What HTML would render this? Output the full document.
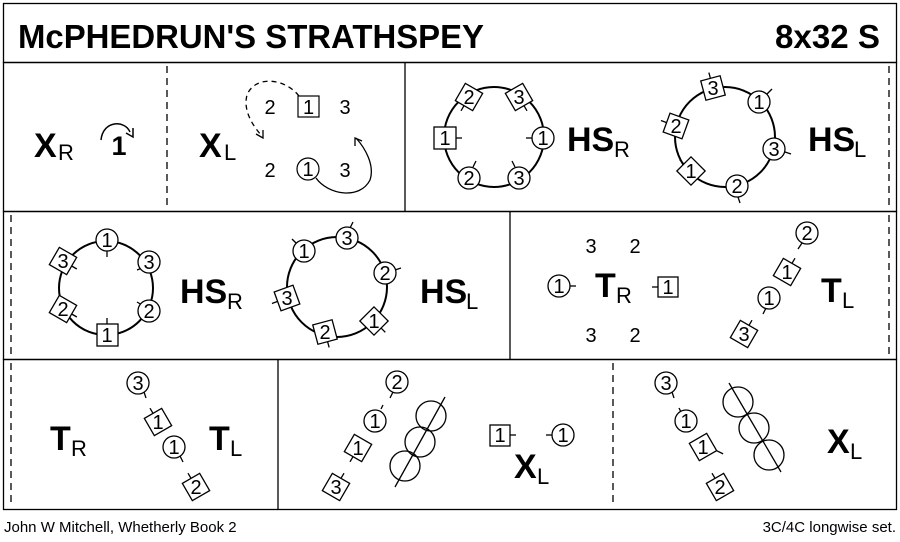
<!DOCTYPE html>
<html><head><meta charset="utf-8"><style>
html,body{margin:0;padding:0;background:#fff}
svg{display:block}
text{font-family:"Liberation Sans",sans-serif;fill:#000}
.n{font-size:20px;text-anchor:middle}
.b{font-weight:bold;font-size:34px}
.s{font-size:22px}
</style></head><body>
<svg width="900" height="542" viewBox="0 0 900 542" xmlns="http://www.w3.org/2000/svg">
<g fill="none" stroke="#000" stroke-width="1.3">
<rect x="3.5" y="3.5" width="893" height="59"/>
<rect x="3.5" y="62.5" width="893" height="149"/>
<rect x="3.5" y="211.5" width="893" height="148"/>
<rect x="3.5" y="359.5" width="893" height="150"/>
<line x1="405" y1="63" x2="405" y2="211"/>
<line x1="510" y1="212" x2="510" y2="359"/>
<line x1="278" y1="360" x2="278" y2="509"/>
<g stroke-dasharray="7,5">
<line x1="167" y1="66" x2="167" y2="208"/>
<line x1="889" y1="66" x2="889" y2="208"/>
<line x1="11" y1="215" x2="11" y2="356"/>
<line x1="889" y1="215" x2="889" y2="356"/>
<line x1="11" y1="363" x2="11" y2="506"/>
<line x1="613" y1="363" x2="613" y2="506"/>
</g>
</g>
<text x="18" y="48" font-weight="bold" font-size="33" textLength="466" lengthAdjust="spacingAndGlyphs">McPHEDRUN'S STRATHSPEY</text>
<text x="880" y="48" font-weight="bold" font-size="33" text-anchor="end" textLength="105" lengthAdjust="spacingAndGlyphs">8x32 S</text>

<!-- Row 1 -->
<text x="34" y="157" class="b">X</text><text x="58" y="160" class="s">R</text>
<path d="M101,140 C103,120 125,120 130,132" fill="none" stroke="#000" stroke-width="1.5"/>
<path d="M126,133 L133,137 L133,128" fill="none" stroke="#000" stroke-width="1.5"/>
<text x="119" y="155" font-size="27" font-weight="bold" text-anchor="middle">1</text>
<text x="199" y="157" class="b">X</text><text x="224" y="160" class="s">L</text>
<text x="270" y="114" class="n">2</text>
<rect x="298" y="96" width="21" height="21" fill="#fff" stroke="#000" stroke-width="1.2"/><text x="308.5" y="114" class="n">1</text>
<text x="345" y="114" class="n">3</text>
<text x="270" y="177" class="n">2</text>
<circle cx="308" cy="169" r="11" fill="#fff" stroke="#000" stroke-width="1.2"/><text x="308" y="176" class="n">1</text>
<text x="345" y="177" class="n">3</text>
<path d="M299,96 C285,78 255,75 247,95 C243,110 252,125 262,136" fill="none" stroke="#000" stroke-width="1.3" stroke-dasharray="5,4"/>
<path d="M256,134 L263,138 L263,130" fill="none" stroke="#000" stroke-width="1.3"/>
<path d="M316,178 C328,195 360,200 370,180 C375,165 365,148 356,138" fill="none" stroke="#000" stroke-width="1.3"/>
<path d="M355,146 L355,138 L362,141" fill="none" stroke="#000" stroke-width="1.3"/>

<g stroke="#000" stroke-width="1.3" fill="#fff">
<circle cx="494" cy="137" r="50" fill="none" stroke-width="2"/>
<line x1="456" y1="138" x2="462" y2="138"/><rect x="434" y="127" width="22" height="22"/>
<line x1="532" y1="138" x2="526" y2="138"/><circle cx="543" cy="138" r="11"/>
<g transform="translate(469,97) rotate(30)"><rect x="-10" y="-10" width="20" height="20"/><line x1="0" y1="10" x2="0" y2="16"/></g>
<g transform="translate(519,97) rotate(-30)"><rect x="-10" y="-10" width="20" height="20"/><line x1="0" y1="10" x2="0" y2="16"/></g>
<line x1="473" y1="167" x2="476" y2="161"/><circle cx="469" cy="178" r="11"/>
<line x1="515" y1="167" x2="512" y2="161"/><circle cx="519" cy="178" r="11"/>
<circle cx="725" cy="137" r="50" fill="none" stroke-width="2"/>
<g transform="translate(713,88) rotate(-15)"><rect x="-10" y="-10" width="20" height="20"/><line x1="0" y1="-10" x2="0" y2="-16"/></g>
<g transform="translate(676,126) rotate(20)"><rect x="-10" y="-10" width="20" height="20"/><line x1="-10" y1="0" x2="-16" y2="0"/></g>
<g transform="translate(691,171) rotate(45)"><rect x="-10" y="-10" width="20" height="20"/><line x1="-10" y1="0" x2="-16" y2="0"/></g>
<line x1="767" y1="94" x2="772" y2="89"/><circle cx="759" cy="102" r="11"/>
<line x1="785" y1="152" x2="791" y2="154"/><circle cx="774" cy="149" r="11"/>
<line x1="738" y1="197" x2="740" y2="203"/><circle cx="737" cy="186" r="11"/>

<circle cx="106" cy="288" r="47" fill="none" stroke-width="2"/>
<line x1="107" y1="251" x2="107" y2="257"/><circle cx="107" cy="240" r="11"/>
<line x1="142" y1="268" x2="137" y2="270"/><circle cx="149" cy="262" r="11"/>
<line x1="142" y1="305" x2="137" y2="302"/><circle cx="149" cy="311" r="11"/>
<line x1="107" y1="324" x2="107" y2="318"/><rect x="97" y="324" width="21" height="22"/>
<g transform="translate(63,261) rotate(30)"><rect x="-10" y="-10" width="20" height="20"/><line x1="10" y1="0" x2="16" y2="0"/></g>
<g transform="translate(63,309) rotate(30)"><rect x="-10" y="-10" width="20" height="20"/><line x1="10" y1="0" x2="16" y2="0"/></g>
<circle cx="337" cy="287" r="50" fill="none" stroke-width="2"/>
<line x1="350" y1="228" x2="353" y2="222"/><circle cx="347" cy="238" r="11"/>
<line x1="395" y1="270" x2="401" y2="268"/><circle cx="385" cy="273" r="11"/>
<line x1="296" y1="243" x2="292" y2="239"/><circle cx="304" cy="251" r="11"/>
<g transform="translate(374,321) rotate(-45)"><rect x="-10" y="-10" width="20" height="20"/><line x1="0" y1="10" x2="0" y2="16"/></g>
<g transform="translate(325,332) rotate(-15)"><rect x="-10" y="-10" width="20" height="20"/><line x1="0" y1="10" x2="0" y2="16"/></g>
<g transform="translate(287,298) rotate(-20)"><rect x="-10" y="-10" width="20" height="20"/><line x1="-10" y1="0" x2="-16" y2="0"/></g>

<line x1="570" y1="286" x2="576" y2="286"/><circle cx="559" cy="286" r="11"/>
<line x1="658" y1="287" x2="652" y2="287"/><rect x="658" y="277" width="20" height="20"/>
<line x1="802" y1="243" x2="798" y2="249"/><circle cx="807" cy="233" r="11"/>
<g transform="translate(787,272) rotate(30)"><rect x="-10" y="-10" width="20" height="20"/><line x1="0" y1="-10" x2="0" y2="-16"/></g>
<line x1="766" y1="308" x2="763" y2="314"/><circle cx="769" cy="298" r="11"/>
<g transform="translate(744,334) rotate(30)"><rect x="-10" y="-10" width="20" height="20"/><line x1="0" y1="-10" x2="0" y2="-16"/></g>

<line x1="144" y1="392" x2="146" y2="398"/><circle cx="138" cy="383" r="11"/>
<g transform="translate(158,422) rotate(-30)"><rect x="-10" y="-10" width="20" height="20"/><line x1="0" y1="-10" x2="0" y2="-16"/></g>
<line x1="180" y1="456" x2="183" y2="462"/><circle cx="174" cy="447" r="11"/>
<g transform="translate(196,487) rotate(-30)"><rect x="-10" y="-10" width="20" height="20"/><line x1="0" y1="-10" x2="0" y2="-16"/></g>

<line x1="393" y1="392" x2="390" y2="398"/><circle cx="397" cy="382" r="11"/>
<line x1="381" y1="409" x2="383" y2="405"/><circle cx="375" cy="421" r="11"/>
<g transform="translate(358,448) rotate(30)"><rect x="-10" y="-10" width="20" height="20"/><line x1="0" y1="10" x2="0" y2="16"/></g>
<g transform="translate(336,487) rotate(30)"><rect x="-10" y="-10" width="20" height="20"/><line x1="0" y1="-10" x2="0" y2="-16"/></g>
<circle cx="431" cy="416" r="15" fill="none"/><circle cx="420" cy="442" r="15" fill="none"/><circle cx="405" cy="466" r="15" fill="none"/>
<line x1="395" y1="487" x2="445" y2="397"/>

<line x1="510" y1="435" x2="516" y2="435"/><rect x="490" y="425" width="20" height="21"/>
<line x1="546" y1="435" x2="552" y2="435"/><circle cx="563" cy="435" r="11"/>

<line x1="672" y1="392" x2="674" y2="398"/><circle cx="666" cy="383" r="11"/>
<line x1="679" y1="408" x2="681" y2="412"/><circle cx="686" cy="421" r="11"/>
<g transform="translate(703,447) rotate(-30)"><rect x="-10" y="-10" width="20" height="20"/><line x1="10" y1="10" x2="14" y2="16"/></g>
<g transform="translate(720,487) rotate(-30)"><rect x="-10" y="-10" width="20" height="20"/><line x1="0" y1="-10" x2="0" y2="-16"/></g>
<circle cx="738" cy="402" r="15" fill="none"/><circle cx="754" cy="428" r="15" fill="none"/><circle cx="769" cy="455" r="15" fill="none"/>
<line x1="729" y1="383" x2="781" y2="472"/>
</g>

<g transform="translate(0,1)">
<text x="445" y="144" class="n">1</text><text x="543" y="144" class="n">1</text>
<text x="469" y="103" class="n">2</text><text x="519" y="103" class="n">3</text>
<text x="469" y="184" class="n">2</text><text x="519" y="184" class="n">3</text>
<text x="713" y="94" class="n">3</text><text x="759" y="108" class="n">1</text>
<text x="676" y="132" class="n">2</text><text x="774" y="155" class="n">3</text>
<text x="691" y="177" class="n">1</text><text x="737" y="192" class="n">2</text>
<text x="107" y="246" class="n">1</text><text x="149" y="268" class="n">3</text>
<text x="149" y="317" class="n">2</text><text x="107" y="341" class="n">1</text>
<text x="63" y="267" class="n">3</text><text x="63" y="315" class="n">2</text>
<text x="347" y="244" class="n">3</text><text x="385" y="279" class="n">2</text>
<text x="304" y="257" class="n">1</text><text x="374" y="327" class="n">1</text>
<text x="325" y="338" class="n">2</text><text x="287" y="304" class="n">3</text>
<text x="559" y="292" class="n">1</text><text x="668" y="293" class="n">1</text>
<text x="807" y="239" class="n">2</text><text x="787" y="278" class="n">1</text>
<text x="769" y="304" class="n">1</text><text x="744" y="340" class="n">3</text>
<text x="138" y="389" class="n">3</text><text x="158" y="428" class="n">1</text>
<text x="174" y="453" class="n">1</text><text x="196" y="493" class="n">2</text>
<text x="397" y="388" class="n">2</text><text x="375" y="427" class="n">1</text>
<text x="358" y="454" class="n">1</text><text x="336" y="493" class="n">3</text>
<text x="500" y="441" class="n">1</text><text x="563" y="441" class="n">1</text>
<text x="666" y="389" class="n">3</text><text x="686" y="427" class="n">1</text>
<text x="703" y="453" class="n">1</text><text x="720" y="493" class="n">2</text>
<text x="591" y="252" class="n">3</text><text x="635" y="252" class="n">2</text>
<text x="591" y="341" class="n">3</text><text x="635" y="341" class="n">2</text>
</g>

<text x="567" y="151" class="b">HS</text><text x="614" y="157" class="s">R</text>
<text x="808" y="151" class="b">HS</text><text x="854" y="157" class="s">L</text>
<text x="180" y="303" class="b">HS</text><text x="227" y="309" class="s">R</text>
<text x="420" y="303" class="b">HS</text><text x="466" y="309" class="s">L</text>
<text x="595" y="297" class="b">T</text><text x="616" y="303" class="s">R</text>
<text x="821" y="302" class="b">T</text><text x="842" y="308" class="s">L</text>
<text x="50" y="450" class="b">T</text><text x="71" y="456" class="s">R</text>
<text x="209" y="450" class="b">T</text><text x="230" y="456" class="s">L</text>
<text x="514" y="478" class="b">X</text><text x="537" y="484" class="s">L</text>
<text x="827" y="453" class="b">X</text><text x="850" y="459" class="s">L</text>

<text x="4" y="532" font-size="15">John W Mitchell, Whetherly Book 2</text>
<text x="896" y="532" font-size="15" text-anchor="end">3C/4C longwise set.</text>
</svg>
</body></html>
